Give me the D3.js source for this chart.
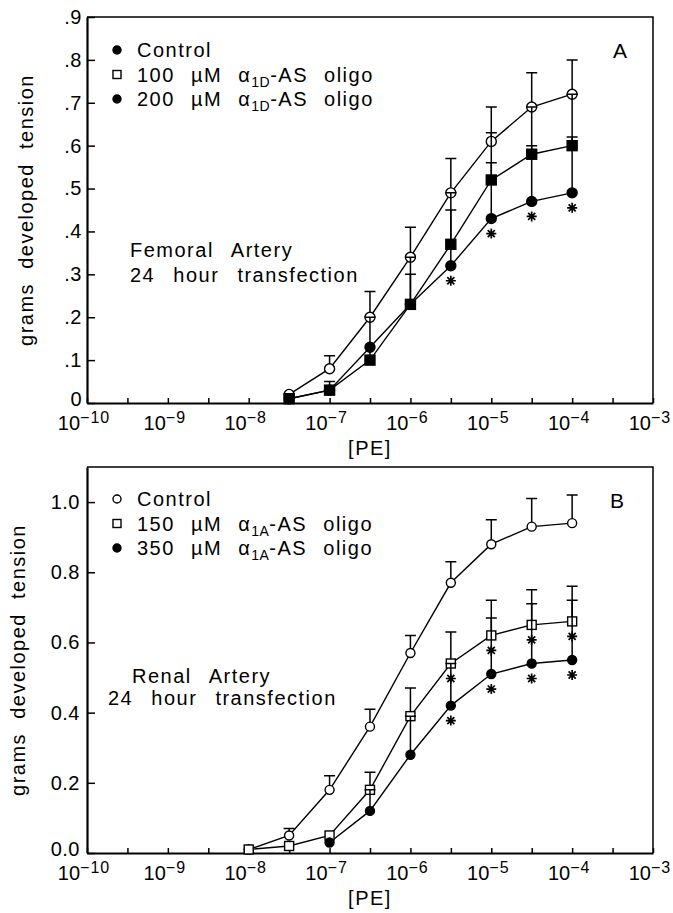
<!DOCTYPE html>
<html>
<head>
<meta charset="utf-8">
<script src="https://cdn.jsdelivr.net/npm/d3@7"></script>
<style>
    body { margin: 0; background: #fff; }
    svg text { font-family: "Liberation Sans", Arial, sans-serif; fill: #000; }
</style>
</head>
<body>
<svg id="chart" width="673" height="913"></svg>
<script>
// ---- data ----
const decadeExps = [-10, -9, -8, -7, -6, -5, -4, -3];

// Panel A : femoral artery
const femoralDose = [3.16e-8, 1e-7, 3.16e-7, 1e-6, 3.16e-6, 1e-5, 3.16e-5, 1e-4];
const femoralControl = [0.02, 0.08, 0.20, 0.34, 0.49, 0.61, 0.69, 0.72];
const femoralControlSem = [0, 0.03, 0.06, 0.07, 0.08, 0.08, 0.08, 0.08];
const femoral100 = [0.01, 0.03, 0.10, 0.23, 0.37, 0.52, 0.58, 0.60];
const femoral100Sem = [0, 0.02, 0.10, 0.11, 0.12, 0.11, 0.11, 0.12];
const femoral200 = [0.01, 0.03, 0.13, 0.23, 0.32, 0.43, 0.47, 0.49];
const femoral200Sem = [0, 0, 0, 0.07, 0.13, 0.13, 0.13, 0.13];
const femoral200Star = [0, 0, 0, 0, 1, 1, 1, 1];

// Panel B : renal artery
const renalDose = [1e-8, 3.16e-8, 1e-7, 3.16e-7, 1e-6, 3.16e-6, 1e-5, 3.16e-5, 1e-4];
const renalControl = [0.01, 0.05, 0.18, 0.36, 0.57, 0.77, 0.88, 0.93, 0.94];
const renalControlSem = [0, 0.02, 0.04, 0.05, 0.05, 0.06, 0.07, 0.08, 0.08];
const renal150 = [0.01, 0.02, 0.05, 0.18, 0.39, 0.54, 0.62, 0.65, 0.66];
const renal150Sem = [0, 0, 0, 0.05, 0.08, 0.09, 0.10, 0.10, 0.10];
const renal150Star = [0, 0, 0, 0, 0, 1, 1, 1, 1];
const renal350Dose = [1e-7, 3.16e-7, 1e-6, 3.16e-6, 1e-5, 3.16e-5, 1e-4];
const renal350 = [0.03, 0.12, 0.28, 0.42, 0.51, 0.54, 0.55];
const renal350Sem = [0, 0.06, 0.11, 0.12, 0.16, 0.17, 0.17];
const renal350Star = [0, 0, 0, 1, 1, 1, 1];

const femoralTicks = [0, 0.1, 0.2, 0.3, 0.4, 0.5, 0.6, 0.7, 0.8, 0.9];
const renalTicks = [0, 0.2, 0.4, 0.6, 0.8, 1.0];

// legend texts: [before subscript, subscript, after subscript]
const femoralLegend = [["Control", "", ""], ["100 µM α", "1D", "-AS oligo"], ["200 µM α", "1D", "-AS oligo"]];
const renalLegend = [["Control", "", ""], ["150 µM α", "1A", "-AS oligo"], ["350 µM α", "1A", "-AS oligo"]];

const FS = 20;
const svg = d3.select("#chart");

function zip(dose, mean, sem, star) {
    return dose.map((d, i) => ({
        dose: d, mean: mean[i], sem: sem[i], star: star ? star[i] : 0
    }));
}

// draw a marker centred on cx, cy
function marker(sel, type, cx, cy, r) {
    const fill = type.startsWith("open") ? "#fff" : "#000";
    if (type.endsWith("Circle")) {
        sel.append("circle")
            .attr("cx", cx).attr("cy", cy).attr("r", r)
            .attr("fill", fill).attr("stroke", "#000").attr("stroke-width", 1.4);
    } else {
        sel.append("rect")
            .attr("x", cx - r).attr("y", cy - r)
            .attr("width", r * 2).attr("height", r * 2)
            .attr("fill", fill).attr("stroke", "#000").attr("stroke-width", 1.4);
    }
}

function asterisk(sel, cx, cy) {
    const s = 5;
    const d = [0, 45, 90, 135].map(a => {
        const dx = s * Math.cos(a * Math.PI / 180), dy = s * Math.sin(a * Math.PI / 180);
        return `M${cx - dx},${cy - dy}L${cx + dx},${cy + dy}`;
    }).join("");
    sel.append("path").attr("d", d).attr("stroke", "#000").attr("stroke-width", 1.7);
}

function drawPanel(conf) {
    const x = d3.scaleLog().domain([1e-10, 1e-3]).range([conf.left, conf.right]);
    const y = d3.scaleLinear().domain([0, conf.yMax]).range([conf.bottom, conf.top]);
    const g = svg.append("g");

    // top / right frame
    g.append("path")
        .attr("d", `M${conf.left},${conf.top}H${conf.right}V${conf.bottom}`)
        .attr("fill", "none").attr("stroke", "#000").attr("stroke-width", 1.5);

    // left axis, ticks pointing inside
    const ya = g.append("g")
        .attr("transform", `translate(${conf.left},0)`)
        .call(d3.axisLeft(y).tickValues(conf.yTicks).tickFormat(conf.yFormat)
            .tickSizeInner(-8).tickSizeOuter(0).tickPadding(conf.yPad));
    ya.attr("font-size", FS);
    ya.select(".domain").attr("stroke-width", 2.2);
    ya.selectAll(".tick line").attr("stroke-width", 1.5);
    ya.selectAll(".tick text").attr("letter-spacing", 0.5)
        .attr("dy", d => d === 0 ? "0.12em" : "0.32em");

    // bottom axis: decades and half decades
    const tv = [];
    decadeExps.forEach(e => {
        tv.push(Math.pow(10, e));
        if (e < -3) tv.push(Math.pow(10, e + 0.5));
    });
    const xa = g.append("g")
        .attr("transform", `translate(0,${conf.bottom})`)
        .call(d3.axisBottom(x).tickValues(tv).tickFormat("").tickSizeInner(-5).tickSizeOuter(0));
    xa.select(".domain").attr("stroke-width", 2.2);
    xa.selectAll(".tick line").attr("stroke-width", 1.5);

    const lbl = g.append("g");
    decadeExps.forEach(e => {
        const t = lbl.append("text")
            .attr("x", x(Math.pow(10, e)) - 3)
            .attr("y", conf.bottom + 27)
            .attr("text-anchor", "middle")
            .attr("font-size", FS);
        t.append("tspan").text("10");
        t.append("tspan").attr("dy", -7).attr("font-size", 16)
            .attr("letter-spacing", 1).text("−" + (-e));
    });

    // axis titles
    g.append("text")
        .attr("x", (conf.left + conf.right) / 2).attr("y", conf.bottom + 52)
        .attr("text-anchor", "middle").attr("font-size", FS)
        .attr("letter-spacing", 1.5).text("[PE]");
    g.append("text")
        .attr("transform", `translate(${conf.yLabelX},${(conf.top + conf.bottom) / 2}) rotate(-90)`)
        .attr("text-anchor", "middle").attr("font-size", FS)
        .attr("letter-spacing", 1.5).attr("word-spacing", 7)
        .text("grams developed tension");

    // panel letter
    g.append("text")
        .attr("x", conf.letterX).attr("y", conf.letterY)
        .attr("font-size", 21).text(conf.letter);

    // note text
    conf.note.forEach(n => {
        g.append("text")
            .attr("x", n.x).attr("y", n.y)
            .attr("font-size", FS).attr("letter-spacing", 1.5).attr("word-spacing", 11)
            .text(n.text);
    });

    // legend
    conf.legend.forEach((row, i) => {
        const by = conf.legendY + i * 24.5;
        marker(g, conf.legendMarks[i], 117, by - 7, 4);
        const t = g.append("text")
            .attr("x", 137).attr("y", by)
            .attr("font-size", FS).attr("letter-spacing", 1.5).attr("word-spacing", 9);
        t.append("tspan").text(row[0]);
        if (row[1]) {
            t.append("tspan").attr("dy", 5).attr("font-size", 14).attr("letter-spacing", 0.5).text(row[1]);
            t.append("tspan").attr("dy", -5).text(row[2]);
        }
    });

    // connecting lines
    const line = d3.line().x(d => x(d.dose)).y(d => y(d.mean));
    conf.series.forEach(s => {
        g.append("path").datum(s.data).attr("d", line)
            .attr("fill", "none").attr("stroke", "#000").attr("stroke-width", 1.4);
    });

    // markers
    conf.series.forEach(s => {
        s.data.forEach(d => marker(g, s.mark, x(d.dose), y(d.mean), conf.r));
    });

    // error bars on top (upper only)
    conf.series.forEach(s => {
        s.data.filter(d => d.sem > 0).forEach(d => {
            const cx = x(d.dose);
            const y0 = y(d.mean) - conf.r, y1 = y(d.mean + d.sem);
            g.append("path")
                .attr("d", `M${cx},${y0}V${y1}M${cx - 5.5},${y1}H${cx + 5.5}`)
                .attr("fill", "none").attr("stroke", "#000").attr("stroke-width", 1.5);
        });
    });

    // significance stars
    conf.series.forEach(s => {
        s.data.filter(d => d.star).forEach(d => asterisk(g, x(d.dose), y(d.mean) + 15));
    });
}

drawPanel({
    left: 87, right: 653, top: 17, bottom: 403,
    yMax: 0.9, yTicks: femoralTicks, yPad: 5,
    yFormat: v => v === 0 ? "0" : d3.format(".1f")(v).replace(/^0/, ""),
    yLabelX: 33,
    letter: "A", letterX: 613, letterY: 58,
    r: 5,
    note: [{ x: 130, y: 257, text: "Femoral Artery" }, { x: 130, y: 282, text: "24 hour transfection" }],
    legend: femoralLegend, legendY: 57,
    legendMarks: ["filledCircle", "openSquare", "filledCircle"],
    series: [
        { mark: "openCircle", data: zip(femoralDose, femoralControl, femoralControlSem) },
        { mark: "filledSquare", data: zip(femoralDose, femoral100, femoral100Sem) },
        { mark: "filledCircle", data: zip(femoralDose, femoral200, femoral200Sem, femoral200Star) }
    ]
});

drawPanel({
    left: 87, right: 653, top: 467, bottom: 853,
    yMax: 1.1, yTicks: renalTicks, yPad: 7,
    yFormat: d3.format(".1f"),
    yLabelX: 25,
    letter: "B", letterX: 610, letterY: 508,
    r: 4.5,
    note: [{ x: 132, y: 683, text: "Renal Artery" }, { x: 108, y: 705, text: "24 hour transfection" }],
    legend: renalLegend, legendY: 506,
    legendMarks: ["openCircle", "openSquare", "filledCircle"],
    series: [
        { mark: "openCircle", data: zip(renalDose, renalControl, renalControlSem) },
        { mark: "openSquare", data: zip(renalDose, renal150, renal150Sem, renal150Star) },
        { mark: "filledCircle", data: zip(renal350Dose, renal350, renal350Sem, renal350Star) }
    ]
});
</script>
</body>
</html>
